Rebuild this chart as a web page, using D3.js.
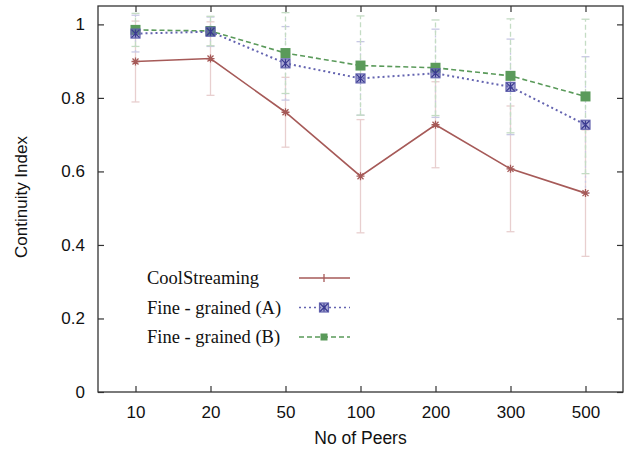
<!DOCTYPE html>
<html>
<head>
<meta charset="utf-8">
<script src="https://cdn.jsdelivr.net/npm/d3@7"></script>
<style>
  body { margin: 0; background: #fff; }
  .tick text { font-family: "Liberation Sans", Arial, sans-serif; font-size: 17px; fill: #111; }
</style>
</head>
<body>
<div id="chart"></div>
<script>
// data
var peers = ["10", "20", "50", "100", "200", "300", "500"];
var coolMean = [0.899, 0.907, 0.761, 0.587, 0.727, 0.607, 0.541];
var coolErr  = [0.11, 0.10, 0.095, 0.154, 0.117, 0.171, 0.172];
var fineAMean = [0.975, 0.980, 0.894, 0.853, 0.867, 0.830, 0.727];
var fineAErr  = [0.05, 0.04, 0.10, 0.10, 0.12, 0.13, 0.185];
var fineBMean = [0.985, 0.982, 0.922, 0.888, 0.882, 0.860, 0.804];
var fineBErr  = [0.045, 0.04, 0.11, 0.135, 0.13, 0.155, 0.21];
var yTicks = [0, 0.2, 0.4, 0.6, 0.8, 1];

var series = [
  {name: "CoolStreaming", mean: coolMean, err: coolErr, color: "#a65a58", errColor: "#e8cfcf", dash: null, marker: "star"},
  {name: "Fine - grained (A)", mean: fineAMean, err: fineAErr, color: "#6464b0", errColor: "#c8c8e4", dash: "2,3", marker: "boxstar"},
  {name: "Fine - grained (B)", mean: fineBMean, err: fineBErr, color: "#5a9a5a", errColor: "#c4dcc4", dash: "5,3", marker: "square"}
];

var margin = {top: 6, right: 14, bottom: 61, left: 98},
    width = 637 - margin.left - margin.right,
    height = 453 - margin.top - margin.bottom;

var svg = d3.select("#chart")
  .append("svg")
    .attr("width", 637)
    .attr("height", 453)
  .append("g")
    .attr("transform", "translate(" + margin.left + "," + margin.top + ")");

var x = d3.scalePoint()
  .domain(peers)
  .range([0, width])
  .padding(0.5);

var y = d3.scaleLinear()
  .domain([0, 1.05])
  .range([height, 0]);

// axes (gnuplot style, ticks inside and mirrored)
svg.append("g")
  .attr("transform", "translate(0," + height + ")")
  .call(d3.axisBottom(x).tickSizeInner(-6).tickSizeOuter(0).tickPadding(14))
  .call(function(g) { g.select(".domain").remove(); });
svg.append("g")
  .call(d3.axisTop(x).tickSizeInner(-6).tickSizeOuter(0).tickFormat(""))
  .call(function(g) { g.select(".domain").remove(); });
svg.append("g")
  .call(d3.axisLeft(y).tickValues(yTicks).tickFormat(d3.format("")).tickSizeInner(-6).tickSizeOuter(0).tickPadding(13))
  .call(function(g) { g.select(".domain").remove(); });
svg.append("g")
  .attr("transform", "translate(" + width + ",0)")
  .call(d3.axisRight(y).tickValues(yTicks).tickFormat("").tickSizeInner(-6).tickSizeOuter(0))
  .call(function(g) { g.select(".domain").remove(); });
svg.selectAll(".tick line").attr("stroke", "#333").attr("stroke-width", 1.2);

// error bars
series.forEach(function(s) {
  var g = svg.append("g");
  s.mean.forEach(function(m, i) {
    var cx = x(peers[i]);
    var lo = y(Math.max(0, m - s.err[i])), hi = y(m + s.err[i]);
    g.append("line").attr("x1", cx).attr("x2", cx).attr("y1", lo).attr("y2", hi)
      .attr("stroke", s.errColor).attr("stroke-width", 1.3)
      .attr("stroke-dasharray", s.dash);
    [lo, hi].forEach(function(yy) {
      g.append("line").attr("x1", cx - 4).attr("x2", cx + 4).attr("y1", yy).attr("y2", yy)
        .attr("stroke", s.errColor).attr("stroke-width", 1.3);
    });
  });
});

function drawMarker(g, type, cx, cy, color) {
  if (type === "star") {
    var p = "M-4,0H4M0,-4V4M-3,-3L3,3M-3,3L3,-3";
    g.append("path").attr("d", p).attr("transform", "translate(" + cx + "," + cy + ")")
      .attr("stroke", color).attr("stroke-width", 1.3).attr("fill", "none");
  } else if (type === "boxstar") {
    g.append("rect").attr("x", cx - 4.5).attr("y", cy - 4.5).attr("width", 9).attr("height", 9)
      .attr("fill", color).attr("fill-opacity", 0.55).attr("stroke", color).attr("stroke-width", 1.2);
    g.append("path").attr("d", "M-4,-4L4,4M-4,4L4,-4M0,-4V4").attr("transform", "translate(" + cx + "," + cy + ")")
      .attr("stroke", "#3a3a90").attr("stroke-width", 1.2);
  } else {
    g.append("rect").attr("x", cx - 5).attr("y", cy - 5).attr("width", 10).attr("height", 10)
      .attr("fill", color);
  }
}

// lines and points
var line = d3.line()
  .x(function(d, i) { return x(peers[i]); })
  .y(function(d) { return y(d); });

series.slice().reverse().forEach(function(s) {
  svg.append("path")
    .datum(s.mean)
    .attr("d", line)
    .attr("fill", "none")
    .attr("stroke", s.color)
    .attr("stroke-width", s.dash === "2,3" ? 2 : 1.6)
    .attr("stroke-dasharray", s.dash);
  var g = svg.append("g");
  s.mean.forEach(function(m, i) { drawMarker(g, s.marker, x(peers[i]), y(m), s.color); });
});

// frame
svg.append("rect")
  .attr("width", width).attr("height", height)
  .attr("fill", "none").attr("stroke", "#333").attr("stroke-width", 1.3);

// legend
var legend = svg.append("g").attr("transform", "translate(" + (147 - margin.left) + "," + (278 - margin.top) + ")");
series.forEach(function(s, i) {
  var row = legend.append("g").attr("transform", "translate(0," + (i * 29.5) + ")");
  row.append("text")
    .attr("x", 0).attr("y", 6)
    .style("font-family", "'Liberation Serif', 'Times New Roman', serif")
    .style("font-size", "18.5px")
    .attr("fill", "#111")
    .text(s.name);
  row.append("line")
    .attr("x1", 152).attr("x2", 203).attr("y1", 0).attr("y2", 0)
    .attr("stroke", s.color).attr("stroke-width", s.dash === "2,3" ? 1.6 : 1.4)
    .attr("stroke-dasharray", s.dash);
  if (s.marker === "star") {
    row.append("line").attr("x1", 177).attr("x2", 177).attr("y1", -4).attr("y2", 4)
      .attr("stroke", s.color).attr("stroke-width", 1.3);
  } else if (s.marker === "boxstar") {
    drawMarker(row, "boxstar", 177, 0, s.color);
  } else {
    row.append("rect").attr("x", 173.5).attr("y", -3.5).attr("width", 7).attr("height", 7).attr("fill", s.color);
  }
});

// axis titles
svg.append("text")
  .attr("x", width / 2).attr("y", height + 52)
  .attr("text-anchor", "middle")
  .style("font-family", "'Liberation Sans', Arial, sans-serif")
  .style("font-size", "17.5px")
  .attr("fill", "#111")
  .text("No of Peers");
svg.append("text")
  .attr("transform", "translate(" + (27 - margin.left) + "," + (197 - margin.top) + ") rotate(-90)")
  .attr("text-anchor", "middle")
  .style("font-family", "'Liberation Sans', Arial, sans-serif")
  .style("font-size", "17px")
  .attr("fill", "#111")
  .text("Continuity Index");
</script>
</body>
</html>
